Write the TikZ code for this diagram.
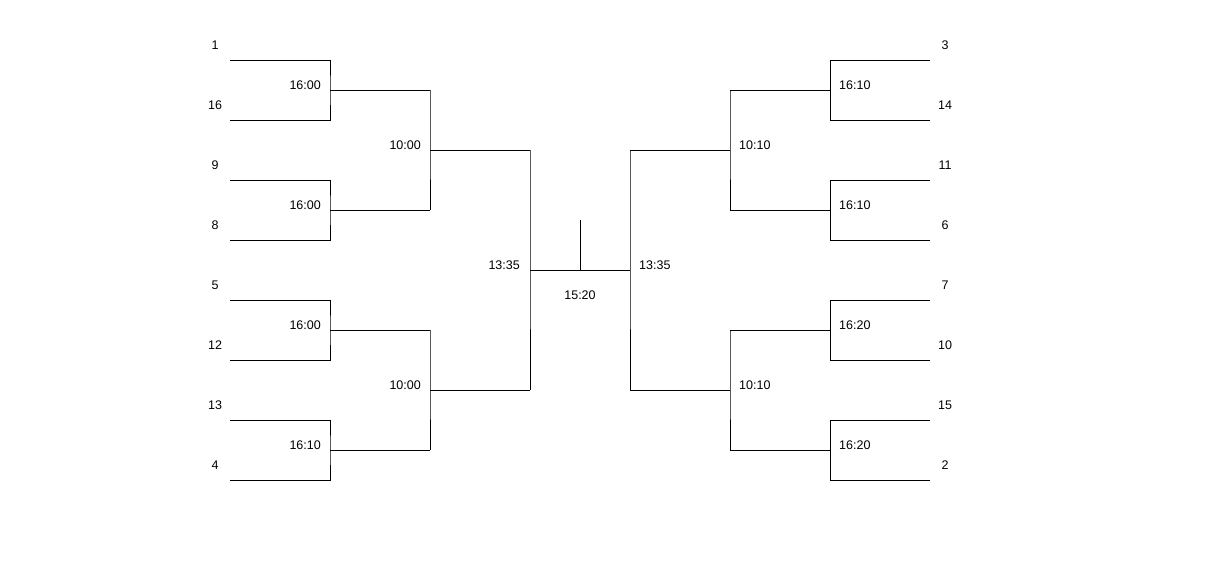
\documentclass[tikz,border=0pt]{standalone}
\usepackage{fontspec}
\setmainfont{Liberation Sans}
\begin{document}
\begin{tikzpicture}[x=1pt,y=-1pt,
  wire/.style={line width=0.9pt,black},
  lbl/.style={inner sep=0pt,font=\fontsize{12.5}{15}\selectfont},
  timeL/.style={lbl,anchor=east},
  timeR/.style={lbl,anchor=west},
  seed/.style={lbl,anchor=center}]
\useasboundingbox (0,0) rectangle (1210,560);
\fill[white] (0,0) rectangle (1210,560);
% ---------- left half ----------
\foreach \k/\t in {0/16:00,1/16:00,2/16:00,3/16:10}{
  \pgfmathsetmacro{\ya}{60+120*\k}
  \pgfmathsetmacro{\yb}{120+120*\k}
  \pgfmathsetmacro{\ym}{90+120*\k}
  \coordinate (la\k) at (230,\ya);
  \coordinate (lb\k) at (230,\yb);
  \coordinate (lw\k) at (430,\ym);
  \draw[wire] (la\k) -| (330,\ym) |- (lb\k);
  \draw[wire] (330,\ym) -- (lw\k);
  \node[timeL] (lt\k) at (321,\ym-5) {\t};
}
\foreach \j in {0,1}{
  \pgfmathtruncatemacro{\a}{2*\j}
  \pgfmathtruncatemacro{\b}{2*\j+1}
  \pgfmathsetmacro{\ym}{150+240*\j}
  \coordinate (ls\j) at (530,\ym);
  \draw[wire] (lw\a) -| (430,\ym) |- (lw\b);
  \draw[wire] (430,\ym) -- (ls\j);
  \node[timeL] (lq\j) at (421,\ym-5) {10:00};
}
\coordinate (lf) at (530,270);
\draw[wire] (ls0) -- (lf) -- (ls1);
\node[timeL] (lft) at (520,265) {13:35};
% ---------- right half ----------
\foreach \k/\t in {0/16:10,1/16:10,2/16:20,3/16:20}{
  \pgfmathsetmacro{\ya}{60+120*\k}
  \pgfmathsetmacro{\yb}{120+120*\k}
  \pgfmathsetmacro{\ym}{90+120*\k}
  \coordinate (ra\k) at (930,\ya);
  \coordinate (rb\k) at (930,\yb);
  \coordinate (rw\k) at (730,\ym);
  \draw[wire] (ra\k) -| (830,\ym) |- (rb\k);
  \draw[wire] (830,\ym) -- (rw\k);
  \node[timeR] (rt\k) at (839,\ym-5) {\t};
}
\foreach \j in {0,1}{
  \pgfmathtruncatemacro{\a}{2*\j}
  \pgfmathtruncatemacro{\b}{2*\j+1}
  \pgfmathsetmacro{\ym}{150+240*\j}
  \coordinate (rs\j) at (630,\ym);
  \draw[wire] (rw\a) -| (730,\ym) |- (rw\b);
  \draw[wire] (730,\ym) -- (rs\j);
  \node[timeR] (rq\j) at (739,\ym-5) {10:10};
}
\coordinate (rf) at (630,270);
\draw[wire] (rs0) -- (rf) -- (rs1);
\node[timeR] (rft) at (639,265) {13:35};
% ---------- final ----------
\coordinate (fm) at (580,270);
\coordinate (ftop) at (580,220);
\draw[wire] (lf) -- (rf);
\draw[wire] (ftop) -- (fm);
\node[seed] (fin) at (580,295) {15:20};
% ---------- seeds ----------
\foreach \i/\s in {0/1,1/16,2/9,3/8,4/5,5/12,6/13,7/4}{
  \node[seed] (sl\i) at (215,45+60*\i) {\s};
}
\foreach \i/\s in {0/3,1/14,2/11,3/6,4/7,5/10,6/15,7/2}{
  \node[seed] (sr\i) at (945,45+60*\i) {\s};
}
\end{tikzpicture}
\end{document}
